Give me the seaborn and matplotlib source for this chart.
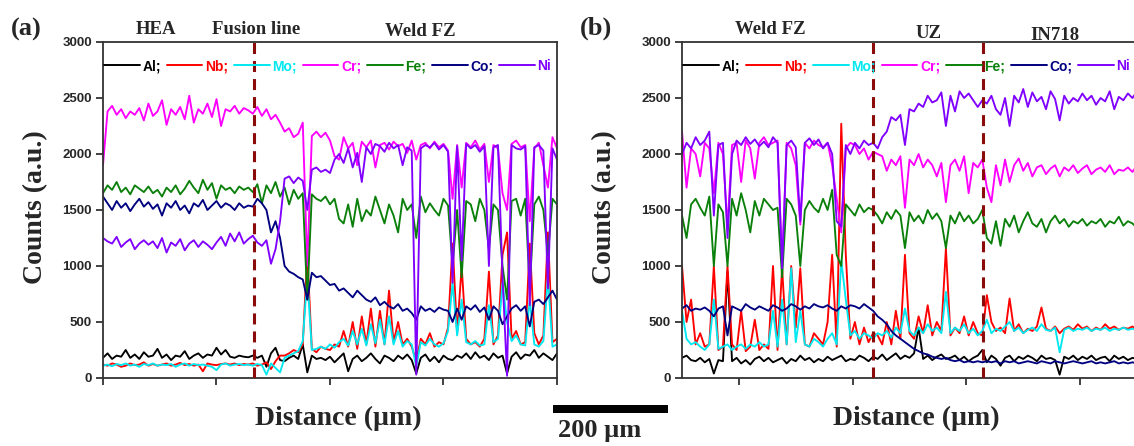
import numpy as np
import pandas as pd
import matplotlib
matplotlib.use("Agg")
import matplotlib.pyplot as plt
from matplotlib.lines import Line2D
from matplotlib.patches import Rectangle
import seaborn as sns

# ---------------- data ----------------
elements = ["Al", "Nb", "Mo", "Cr", "Fe", "Co", "Ni"]
legend_labels = ["Al;", "Nb;", "Mo;", "Cr;", "Fe;", "Co;", "Ni"]
element_colors = ["#000000", "#ff0000", "#00e8f0", "#ff00ff", "#0a800a", "#000080", "#8000ff"]

x_a = list(range(0, 401, 4))
x_b = list(range(0, 401, 4))

yticks = [0, 500, 1000, 1500, 2000, 2500, 3000]
xticks_a = [0, 100, 200, 300, 400]
xticks_b = [50, 150, 250, 350]
fusion_line_a = [133]
boundaries_b = [168, 265]

headers_a = ["HEA", "Fusion line", "Weld FZ"]
headers_b = ["Weld FZ", "UZ", "IN718"]

# panel (a)  HEA -> weld FZ
al_a = [180,220,170,200,190,250,180,210,170,230,
        190,200,260,180,210,160,200,190,240,170,
        200,220,180,210,200,270,210,250,190,180,
        200,190,185,200,180,200,100,220,270,160,
        150,180,200,170,300,50,200,170,180,160,
        190,140,180,220,60,170,200,150,180,220,
        170,130,200,180,150,200,170,210,160,40,
        180,210,150,190,140,200,170,160,200,180,
        220,170,230,180,200,160,220,180,200,40,
        190,230,170,210,200,250,180,220,190,160,
        220]
nb_a = [120,110,130,120,100,110,130,115,120,140,
        110,125,110,120,130,110,120,135,115,125,
        110,120,60,130,120,115,125,130,120,130,
        115,125,120,130,110,120,140,80,150,200,
        200,220,250,230,300,1100,260,230,280,260,
        250,300,280,420,280,500,260,550,300,620,
        280,600,300,780,320,500,300,350,280,150,
        350,300,400,280,320,300,450,1200,400,1000,
        350,300,320,280,350,950,300,380,1100,1300,
        350,420,300,320,1200,400,300,380,1300,320,
        350]
mo_a = [110,120,105,125,115,130,110,120,100,125,
        115,130,110,120,115,125,100,120,130,110,
        125,115,120,110,100,70,120,130,110,120,
        125,115,120,110,125,115,30,130,90,50,
        180,200,220,240,330,900,250,260,280,260,
        300,270,320,350,290,420,300,440,290,480,
        310,520,300,550,300,420,280,330,300,100,
        320,290,350,300,280,310,420,850,380,700,
        320,300,330,290,300,650,320,350,850,500,
        330,380,300,290,700,300,280,330,900,280,
        300]
cr_a = [1900,2380,2430,2350,2400,2320,2380,2350,2410,2300,
        2450,2340,2380,2480,2260,2400,2350,2420,2310,2520,
        2280,2400,2360,2450,2330,2490,2250,2400,2380,2430,
        2360,2410,2390,2360,2420,2340,2400,2310,2350,2280,
        2200,2230,2150,2180,2280,1000,2160,2200,2150,2190,
        2120,1980,1950,2150,2050,2100,1900,2110,2060,2120,
        1880,2080,2100,2040,2110,2070,2090,2010,2120,1950,
        2080,2100,2050,2110,2060,2090,2030,1600,2080,1700,
        2100,2060,2120,2040,2090,1750,2080,2050,1650,1500,
        2090,2120,2060,2080,1400,2050,2100,1900,1700,2150,
        2050]
fe_a = [1650,1720,1680,1750,1660,1700,1640,1720,1690,1660,
        1710,1650,1680,1620,1700,1660,1720,1640,1690,1760,
        1700,1650,1770,1680,1740,1600,1720,1680,1700,1650,
        1710,1680,1700,1660,1730,1560,1720,1650,1750,1620,
        1700,1550,1680,1600,1650,700,1640,1600,1580,1620,
        1550,1600,1420,1380,1550,1350,1600,1400,1500,1450,
        1620,1500,1380,1550,1450,1300,1600,1500,1550,1250,
        1620,1480,1560,1500,1450,1600,1540,1000,1500,900,
        1580,1550,1400,1600,1500,1150,1550,1500,1000,700,
        1580,1600,1450,1600,800,1550,1620,1500,1100,1600,
        1550]
co_a = [1620,1560,1500,1580,1520,1560,1490,1550,1600,1530,
        1570,1510,1550,1450,1560,1520,1580,1500,1540,1470,
        1560,1530,1590,1500,1540,1580,1520,1560,1540,1500,
        1560,1520,1540,1530,1600,1560,1500,1300,1400,1250,
        1000,950,930,900,880,700,940,900,910,870,
        830,840,780,800,760,720,780,740,700,680,
        720,650,680,640,620,660,600,620,580,520,
        640,600,620,590,630,610,600,500,620,520,
        640,610,650,590,630,520,640,600,480,550,
        620,650,600,640,460,680,700,660,720,780,
        700]
ni_a = [1250,1220,1200,1260,1170,1210,1240,1150,1200,1230,
        1190,1220,1160,1250,1120,1210,1180,1240,1140,1200,
        1230,1170,1220,1190,1150,1210,1260,1180,1290,1220,
        1300,1200,1240,1270,1210,1180,1230,1020,1150,1400,
        1780,1800,1740,1790,1760,1500,1860,1880,1840,1860,
        1830,1950,2000,1920,2050,1880,2010,1750,2060,2000,
        2090,2070,2020,2100,2050,2080,1900,2060,2030,30,
        2050,2080,2060,2100,2040,2080,2020,850,2070,1050,
        2090,2050,2080,2020,2070,1000,2060,2080,900,20,
        2080,2050,2040,2070,650,2060,2080,2030,800,2050,
        1950]

# panel (b)  weld FZ -> UZ -> IN718
al_b = [180,200,160,150,180,140,170,40,160,150,
        950,150,180,130,160,120,170,190,150,180,
        140,160,180,130,170,150,200,160,180,140,
        170,150,190,160,180,200,150,170,160,200,
        180,150,190,170,210,160,190,220,170,200,
        180,220,450,170,200,160,190,210,170,180,
        200,160,190,150,180,200,250,140,200,170,
        110,180,200,150,190,170,200,180,150,200,
        170,180,160,30,190,170,200,160,190,170,
        200,160,180,190,150,200,170,190,160,180,
        170]
nb_b = [1000,500,700,300,400,280,300,1000,250,280,
        1000,300,250,600,240,280,520,250,300,260,
        1000,250,980,300,1000,450,980,300,280,400,
        350,300,500,1100,280,2270,1100,350,500,300,
        450,320,400,380,300,500,300,600,350,1100,
        400,350,550,400,650,380,500,420,1160,380,
        450,400,550,380,500,400,380,740,500,420,
        450,400,710,420,480,400,440,420,460,630,
        440,420,460,400,440,460,430,480,440,460,
        420,450,430,480,440,460,430,450,440,460,
        430]
mo_b = [600,350,300,320,280,250,300,700,260,280,
        300,250,280,300,260,300,280,320,280,300,
        600,280,700,300,980,320,600,300,280,350,
        320,280,350,400,300,1050,700,380,420,350,
        400,380,350,400,380,420,360,450,400,620,
        420,380,450,400,480,420,450,400,770,400,
        450,420,480,400,440,380,420,520,400,440,
        420,460,500,420,450,400,430,450,420,480,
        430,420,450,230,430,450,420,440,430,450,
        420,440,430,450,420,440,430,450,430,440,
        430]
cr_b = [2200,1700,2050,2000,1800,2100,2050,1650,2100,2000,
        1350,2080,2100,1750,2120,2050,1780,2100,2150,2080,
        2100,2120,1000,2100,2050,1900,1370,2100,2050,2120,
        2080,2060,2100,1900,1600,1300,2050,2100,2080,2000,
        2050,1950,2020,2000,1980,1850,1950,1900,1980,1520,
        1950,1900,2000,1880,1950,1900,1800,1920,1570,1900,
        1950,1850,1980,1650,1920,1880,1950,1700,1570,1900,
        1720,1950,1750,1900,1960,1850,1920,1800,1880,1900,
        1820,1870,1900,1800,1880,1850,1900,1830,1870,1900,
        1820,1860,1880,1840,1900,1820,1860,1850,1880,1840,
        1900]
fe_b = [1450,1250,1550,1600,1520,1450,1620,1000,1550,1480,
        1000,1600,1450,1650,1500,1300,1580,1450,1600,1550,
        1500,1520,900,1600,1550,1450,1000,1500,1580,1520,
        1480,1600,1500,1680,1100,1000,1550,1500,1450,1550,
        1480,1520,1500,1450,1380,1480,1420,1500,1450,1160,
        1480,1400,1450,1380,1500,1420,1470,1400,1160,1450,
        1380,1480,1400,1450,1380,1420,1500,1250,1200,1400,
        1180,1420,1350,1450,1300,1400,1480,1380,1350,1420,
        1300,1400,1450,1380,1420,1350,1400,1380,1420,1360,
        1400,1380,1420,1350,1400,1380,1440,1360,1400,1380,
        1340]
co_b = [620,650,600,620,610,630,600,550,620,640,
        380,640,620,600,660,630,610,640,620,600,
        650,630,600,620,660,640,610,640,620,660,
        640,630,650,620,600,640,620,650,640,620,
        660,630,600,550,520,480,420,380,350,320,
        290,260,240,220,210,190,180,170,180,160,
        150,160,140,150,140,150,140,150,140,150,
        130,150,140,150,130,140,150,140,130,150,
        140,130,150,140,130,140,150,140,130,140,
        150,130,140,130,140,150,130,140,130,140,
        130]
ni_b = [2000,2100,2050,2150,2080,2120,2200,1450,2080,2100,
        1250,2000,2120,2080,2150,2090,2130,2070,2110,2060,
        2150,2100,980,2080,2120,2060,1400,2100,2140,2080,
        2130,2050,2100,2000,1400,1350,2080,2000,2100,2050,
        2120,2080,2100,2050,2150,2200,2330,2300,2350,2080,
        2400,2380,2450,2420,2520,2460,2480,2550,2250,2520,
        2380,2560,2500,2540,2480,2420,2480,2450,2520,2400,
        2350,2500,2250,2520,2460,2580,2420,2550,2470,2510,
        2400,2560,2490,2300,2520,2450,2500,2470,2540,2480,
        2520,2440,2500,2470,2560,2400,2510,2480,2540,2500,
        2560]

series_a = [al_a, nb_a, mo_a, cr_a, fe_a, co_a, ni_a]
series_b = [al_b, nb_b, mo_b, cr_b, fe_b, co_b, ni_b]

# ---------------- style ----------------
sns.set_style("ticks")
plt.rcParams["font.family"] = ["Liberation Sans", "DejaVu Sans"]
SERIF = ["Liberation Serif", "DejaVu Serif"]
SANS = ["Liberation Sans", "DejaVu Sans"]
palette = dict(zip(elements, element_colors))

W, H = 1134, 446
fig = plt.figure(figsize=(W / 100, H / 100), dpi=100)
fig.patch.set_facecolor("white")


def fx(px):
    return px / W


def fy(py):
    return 1 - py / H


def long_df(x, series):
    rows = []
    for el, vals in zip(elements, series):
        rows.append(pd.DataFrame({"x": x, "counts": vals, "element": el}))
    return pd.concat(rows, ignore_index=True)


def draw_panel(ax, x, series, xticks, vlines):
    df = long_df(x, series)
    sns.lineplot(data=df, x="x", y="counts", hue="element", hue_order=elements,
                 palette=palette, ax=ax, linewidth=1.35, legend=False,
                 estimator=None, sort=False)
    for v in vlines:
        ax.axvline(v, color="#8b0a0a", lw=2.2, linestyle=(0, (3.6, 2.3)), zorder=5)
    ax.set_xlim(0, 400)
    ax.set_ylim(0, 3000)
    ax.set_yticks(yticks)
    ax.set_xticks(xticks)
    ax.set_xticklabels([])
    ax.set_xlabel("")
    ax.set_ylabel("")
    ax.tick_params(axis="both", direction="out", length=5, width=1.3,
                   color="#333333", pad=3)
    for lab in ax.get_yticklabels():
        lab.set_fontfamily(SANS)
        lab.set_fontweight("bold")
        lab.set_fontsize(9.5)
    for sp in ax.spines.values():
        sp.set_visible(True)
        sp.set_color("#333333")
        sp.set_linewidth(1.3)
    handles = [Line2D([0], [0], color=c, lw=1.4) for c in element_colors]
    leg = ax.legend(handles, legend_labels, ncol=7, loc="center left",
                    bbox_to_anchor=(0.0, 0.928), frameon=False,
                    handlelength=2.55, handletextpad=0.2, columnspacing=0.42,
                    borderpad=0.1, borderaxespad=0.0,
                    prop={"family": SANS, "weight": "bold", "size": 10})
    for t, c in zip(leg.get_texts(), element_colors):
        t.set_color(c)


ax_a = fig.add_axes([fx(103), fy(378), fx(454), 336 / H])
ax_b = fig.add_axes([fx(682), fy(378), fx(455), 336 / H])
draw_panel(ax_a, x_a, series_a, xticks_a, fusion_line_a)
draw_panel(ax_b, x_b, series_b, xticks_b, boundaries_b)

# panel letters
fig.text(fx(26), fy(29), "(a)", family=SERIF, weight="bold", size=19, ha="center", va="center")
fig.text(fx(596), fy(28), "(b)", family=SERIF, weight="bold", size=19, ha="center", va="center")

# region headers
for txt, cx, cy in zip(headers_a, [156, 256, 420], [29, 29, 31]):
    fig.text(fx(cx), fy(cy), txt, family=SERIF, weight="bold", size=13.5, ha="center", va="center")
for txt, cx, cy in zip(headers_b, [770, 929, 1055], [29, 33, 35]):
    fig.text(fx(cx), fy(cy), txt, family=SERIF, weight="bold", size=13.5, ha="center", va="center")

# axis labels
for cx in [36, 605]:
    fig.text(fx(cx), fy(207), "Counts (a.u.)", family=SERIF, weight="bold", size=20,
             rotation=90, ha="center", va="center")
for cx in [338, 916]:
    fig.text(fx(cx), fy(418), "Distance (\u00b5m)", family=SERIF, weight="bold", size=20,
             ha="center", va="center")

# scale bar
fig.add_artist(Rectangle((fx(553), fy(413)), fx(668 - 553), 8 / H, transform=fig.transFigure,
                         facecolor="black", edgecolor="none"))
fig.text(fx(600), fy(431), "200 \u00b5m", family=SERIF, weight="bold", size=19,
         ha="center", va="center")

fig.savefig("out.png", dpi=100, facecolor="white")
